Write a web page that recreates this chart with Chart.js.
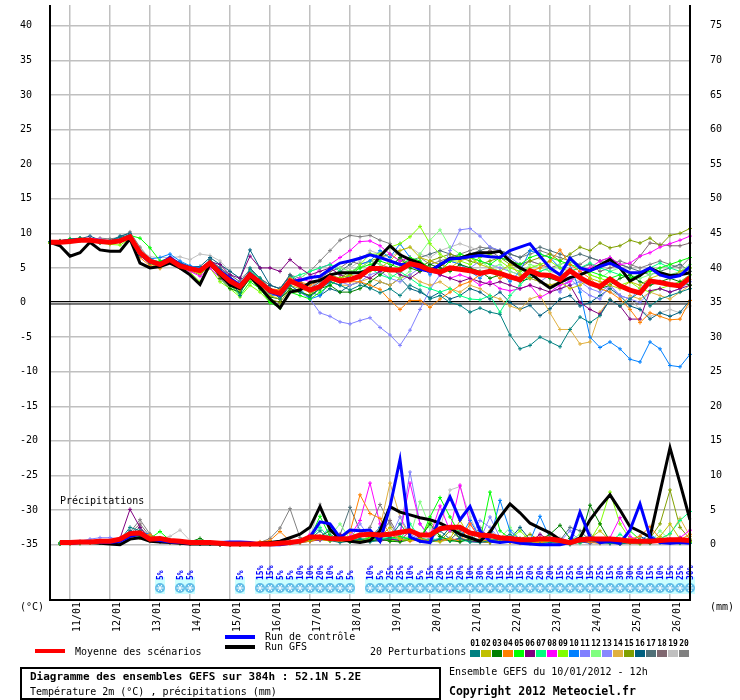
<!DOCTYPE html>
<html>
<head>
<meta charset="utf-8">
<title>Diagramme des ensembles GEFS</title>
<script src="https://cdn.jsdelivr.net/npm/chart.js@4.4.1/dist/chart.umd.min.js"></script>
<style>
  html, body { margin: 0; padding: 0; background: #fff; }
  canvas { display: block; }
</style>
</head>
<body>
<canvas id="gefs" width="740" height="700"></canvas>
<script>
// Echéances : du 10/01 12h au 26/01 12h, pas de 6h (65 points)
const jours = ['10/01', '11/01', '12/01', '13/01', '14/01', '15/01', '16/01', '17/01', '18/01',
               '19/01', '20/01', '21/01', '22/01', '23/01', '24/01', '25/01', '26/01'];
const heures = ['00h', '06h', '12h', '18h'];
const echeances = [];
jours.forEach(j => heures.forEach(h => echeances.push(j + ' ' + h)));
const times = echeances.slice(2, 67);

// Graduations
const tempTicks = [-35, -30, -25, -20, -15, -10, -5, 0, 5, 10, 15, 20, 25, 30, 35, 40];
const mmTicks = [0, 5, 10, 15, 20, 25, 30, 35, 40, 45, 50, 55, 60, 65, 70, 75];

// Couleurs des 20 perturbations
const couleurs = ['#008080', '#c0c000', '#008000', '#ff8000', '#00ff00', '#800080', '#00ff80',
                  '#ff00ff', '#80ff00', '#0080ff', '#8080ff', '#80ff80', '#8888ff', '#e0b040',
                  '#80a000', '#006080', '#507078', '#806870', '#c0c0c0', '#808080'];

// Température 2m (°C)
const tMoy = [8.7,8.7,8.8,9.0,9.0,8.8,8.7,8.9,9.5,7.2,6.0,5.5,6.2,5.3,4.9,4.6,5.7,
  4.3,3.1,2.3,4.0,2.9,1.7,1.3,3.1,2.5,1.8,2.3,3.6,3.1,3.3,3.8,4.9,
  4.9,4.7,4.7,5.6,5.3,4.7,4.4,5.0,4.8,4.6,4.2,4.5,4.2,3.7,3.3,4.6,
  4.0,3.9,3.3,4.6,3.6,2.8,2.3,3.4,2.4,1.8,1.4,3.1,2.9,2.6,2.4,3.6];
const tCtrl = [8.7,8.8,9.0,9.1,9.0,8.9,8.8,8.9,9.6,7.0,5.8,5.6,6.5,5.5,5.0,4.7,5.8,
  4.6,3.5,2.5,4.2,3.0,1.5,1.0,3.0,3.2,3.6,3.8,4.8,5.7,6.0,6.4,6.9,
  6.5,6.0,5.5,5.5,4.8,4.5,5.5,6.3,6.4,6.6,6.8,6.6,6.5,7.5,8.0,8.5,
  6.7,5.0,4.0,6.4,5.0,4.6,5.2,5.7,5.0,4.3,4.3,5.0,4.0,3.6,3.9,5.2];
const tGfs = [8.7,8.2,6.7,7.2,8.7,7.6,7.4,7.4,9.2,5.7,5.0,5.2,5.7,5.0,4.0,2.6,5.6,
  4.0,2.5,2.0,3.8,2.2,0.5,-0.8,1.5,1.8,2.9,3.2,4.0,4.3,4.3,4.3,4.7,
  6.7,8.2,6.9,6.2,5.7,4.6,5.4,6.4,6.4,6.9,7.2,7.2,7.4,6.0,5.0,4.3,
  3.1,2.1,2.9,3.6,4.0,4.6,5.4,6.2,5.0,3.1,3.9,5.0,4.3,3.9,4.0,4.3];

const t01 = [8.8,8.9,9.0,9.3,9.1,8.6,8.9,9.4,9.8,6.8,5.7,5.2,6.0,5.5,5.0,4.8,6.0,
  4.8,3.5,1.0,5.0,3.5,2.0,0.5,2.5,1.5,0.8,2.0,3.0,2.5,1.8,2.5,2.1,
  1.4,2.0,1.0,2.5,1.8,0.5,1.0,0.0,-0.4,-1.4,-0.8,-1.4,-1.7,-4.7,-6.7,-6.2,
  -5.0,-5.7,-6.4,-3.9,-2.1,-2.9,-1.9,0.4,-0.5,0.5,1.5,-0.5,0.5,1.0,1.5,2.0];
const t02 = [8.7,8.6,8.8,9.0,9.0,8.7,8.5,8.7,9.3,7.0,5.8,5.3,6.0,5.1,4.7,4.2,5.4,
  3.8,2.8,1.8,3.5,2.5,1.0,0.5,2.5,2.0,1.5,2.5,3.0,3.5,4.0,3.5,4.5,
  5.0,6.0,7.5,8.0,6.5,6.0,5.5,5.0,6.0,6.5,5.5,5.0,4.5,5.5,4.0,3.5,
  3.0,2.5,3.0,2.0,2.5,3.5,3.0,2.5,2.0,3.0,2.5,3.5,4.0,3.5,4.5,5.0];
const t03 = [8.7,8.8,9.0,9.2,9.1,8.8,8.7,8.8,9.3,7.0,5.9,5.6,6.1,5.3,4.9,4.5,5.8,
  3.5,2.0,1.5,3.5,2.0,0.8,0.5,2.0,1.5,1.0,2.0,2.5,1.5,1.5,2.0,3.0,
  4.0,5.0,6.5,5.0,4.5,5.5,5.0,4.5,5.5,5.0,4.5,3.5,4.0,3.5,3.0,3.5,
  4.0,3.5,3.0,4.5,3.5,3.0,2.0,2.5,3.5,4.0,3.0,2.5,3.0,3.5,3.0,2.5];
const t04 = [8.7,8.8,9.0,9.1,9.0,8.8,8.7,8.9,9.4,6.5,5.3,5.0,6.0,5.1,4.8,4.5,5.5,
  4.2,3.2,2.5,4.2,3.0,2.0,1.8,3.5,3.0,2.5,3.2,3.5,3.0,3.0,3.0,2.5,
  1.9,0.3,-1.0,0.3,0.3,-0.7,0.5,1.5,2.5,3.0,4.0,4.5,3.5,4.0,3.5,4.5,
  5.0,6.0,7.6,5.5,4.5,3.5,2.0,1.5,0.5,-1.0,-2.9,-1.5,-2.0,-2.5,-2.4,0.3];
const t05 = [8.8,8.9,9.2,9.3,9.2,8.9,8.8,9.0,9.7,9.3,7.9,6.0,6.4,5.4,4.9,4.3,5.6,
  4.0,2.5,1.0,3.0,2.0,0.0,-0.8,1.5,1.0,0.5,1.5,2.5,3.5,4.0,5.0,5.5,
  6.0,5.5,5.0,6.5,6.0,5.0,4.5,6.0,7.0,6.5,6.0,5.5,6.5,6.0,5.5,6.5,
  7.0,6.5,6.0,5.5,5.0,4.5,4.0,3.5,4.0,3.5,4.0,4.5,5.0,5.5,6.0,6.5];
const t06 = [8.7,8.8,8.9,9.0,8.9,8.8,8.7,9.0,9.4,7.1,5.9,5.5,6.1,5.2,4.9,4.8,5.9,
  5.5,4.0,3.5,6.7,5.0,5.0,4.5,6.2,5.0,4.0,4.5,5.0,4.0,3.5,4.0,3.5,
  4.5,5.0,4.0,3.5,4.5,5.0,4.0,3.5,3.0,3.5,3.0,2.6,3.0,2.5,2.0,2.5,
  2.0,1.5,2.0,2.5,0.0,-1.0,-1.7,0.4,-0.5,-2.4,-2.4,1.7,2.0,1.5,2.0,2.5];
const t07 = [8.7,8.8,9.0,9.1,9.1,8.9,8.9,9.1,9.6,7.4,6.2,5.9,6.4,5.4,5.0,4.6,5.8,
  4.2,3.3,2.0,4.5,3.5,1.8,1.5,3.5,4.0,4.5,5.0,5.5,4.5,4.0,4.5,5.0,
  4.0,3.5,4.5,3.5,2.5,2.0,1.5,2.0,1.0,0.5,0.4,1.0,-1.4,1.0,2.5,4.0,
  4.5,5.0,4.0,4.5,5.0,5.7,5.0,4.5,4.0,3.5,4.0,5.0,5.7,5.0,4.5,5.0];
const t08 = [8.8,8.7,8.9,9.2,9.3,9.1,8.9,9.2,9.8,7.3,6.0,5.5,6.2,5.1,4.5,3.8,5.0,
  3.5,2.8,2.0,4.0,3.0,2.0,1.5,3.0,3.5,3.0,5.0,5.5,6.5,7.5,8.8,8.9,
  8.2,7.0,6.0,6.5,5.5,4.5,4.0,3.5,4.0,3.5,2.5,3.0,2.0,1.7,2.0,2.5,
  0.7,1.5,2.5,3.0,4.5,5.0,6.0,6.5,5.5,5.7,6.7,7.2,8.0,8.5,9.0,9.6];
const t09 = [8.6,8.7,8.7,8.9,8.8,8.6,8.4,8.3,9.2,7.0,5.6,5.2,5.8,5.0,4.4,3.0,5.0,
  3.0,2.0,0.8,2.5,1.5,0.0,-0.5,1.5,1.5,1.0,2.0,3.5,3.0,4.0,5.5,7.0,
  7.0,8.0,8.5,9.5,11.0,8.5,7.0,6.0,6.0,5.5,6.5,7.0,6.0,5.0,4.5,5.0,
  5.5,6.0,5.0,4.5,5.0,4.0,3.5,3.0,2.5,3.0,2.0,1.5,2.0,2.5,3.0,4.0];
const t10 = [8.7,8.8,9.0,9.2,9.1,8.9,8.8,9.0,9.6,7.4,6.3,6.5,7.0,6.0,5.3,5.0,5.5,
  4.5,3.0,2.0,3.5,2.5,1.0,1.2,3.5,2.0,0.5,1.0,3.0,2.5,4.0,5.5,6.0,
  7.5,6.5,8.5,6.5,5.5,4.0,5.5,6.0,5.5,4.5,3.5,5.0,4.5,3.0,4.5,7.5,
  7.0,6.5,5.0,5.5,1.5,-5.0,-6.5,-5.7,-6.7,-8.2,-8.6,-5.7,-6.7,-9.1,-9.3,-7.5];
const t11 = [8.7,8.7,8.9,9.1,9.2,9.0,8.8,9.1,9.7,7.5,6.1,5.8,6.3,5.4,5.0,4.7,5.2,
  4.5,3.5,2.5,4.5,3.0,1.5,1.0,2.5,1.5,0.5,-1.5,-2.0,-2.8,-3.1,-2.6,-2.2,
  -3.6,-4.7,-6.2,-4.0,-1.0,1.9,4.0,7.5,10.5,10.7,9.6,8.0,7.5,6.5,5.5,4.0,
  3.0,2.5,1.5,3.5,2.0,1.0,0.5,2.5,1.0,0.5,2.0,3.5,3.0,2.5,3.0,4.0];
const t12 = [8.7,8.8,9.0,9.1,9.0,8.9,8.8,9.0,9.5,7.2,6.0,5.5,6.2,5.3,4.8,4.4,5.4,
  4.0,2.8,1.8,3.8,2.6,1.3,1.0,2.8,3.5,4.5,5.0,5.5,5.0,4.5,5.0,6.0,
  5.5,4.0,3.5,4.5,7.0,9.0,10.5,8.0,7.0,6.5,6.0,5.0,5.5,4.5,4.0,5.5,
  5.0,4.5,5.5,6.0,5.0,4.0,3.5,4.5,5.0,4.0,3.5,4.0,4.5,4.0,4.5,5.5];
const t13 = [8.8,8.9,9.1,9.3,9.2,9.0,8.9,9.1,9.7,7.5,6.3,5.8,6.5,5.5,5.1,4.7,5.6,
  4.5,3.5,2.8,4.0,3.2,2.0,1.5,3.0,2.5,1.8,2.5,3.5,3.0,2.5,3.0,4.0,
  4.5,3.5,3.0,4.0,5.0,4.5,5.5,6.0,5.5,5.0,6.0,5.5,5.0,4.5,4.0,3.5,
  3.0,4.0,3.5,2.5,3.0,2.0,1.5,2.5,1.0,0.5,0.0,1.5,2.0,1.5,2.0,3.0];
const t14 = [8.7,8.7,8.9,9.0,9.0,8.8,8.6,8.8,9.4,7.0,5.6,4.9,6.0,5.2,4.6,4.2,5.4,
  4.0,3.0,2.0,3.5,2.0,1.2,0.8,2.8,2.2,1.5,2.0,3.0,2.5,2.5,3.0,3.5,
  3.0,2.5,3.5,4.0,3.0,2.5,3.0,2.0,1.5,2.5,2.0,1.0,0.5,-0.5,-1.0,0.5,
  1.0,-1.5,-3.9,-3.9,-6.0,-5.7,-1.4,0.5,-0.5,1.0,0.5,1.5,1.0,0.5,1.5,2.5];
const t15 = [8.6,8.8,9.0,9.1,9.0,8.7,8.6,8.8,9.4,7.0,5.8,5.3,6.0,5.0,4.6,4.0,5.3,
  3.8,2.5,1.5,3.5,2.5,0.5,0.0,2.0,1.5,1.0,2.5,4.0,3.5,4.5,5.0,6.0,
  6.5,7.0,6.0,5.5,5.0,6.0,6.5,7.0,6.5,6.0,5.5,6.0,6.5,5.5,5.0,6.0,
  6.5,7.0,6.0,7.0,8.0,7.5,8.6,7.9,8.2,9.0,8.6,9.3,8.2,9.7,10.0,10.7];
const t16 = [8.6,8.8,9.1,9.2,9.6,9.0,8.9,9.6,10.0,7.0,5.5,5.6,6.4,5.8,5.2,5.2,6.5,
  5.5,4.5,3.5,7.6,5.0,2.5,2.0,3.8,2.8,1.5,1.0,2.0,1.5,2.5,3.0,2.0,
  3.0,2.5,3.5,2.0,1.5,0.7,1.5,0.5,1.0,2.0,1.5,0.5,1.5,0.0,-1.0,-0.4,
  -1.9,-0.9,0.5,1.0,-0.5,0.0,1.0,2.0,1.0,-0.5,-1.0,-2.4,-1.5,-2.0,-1.4,0.3];
const t17 = [8.7,8.7,8.8,9.0,9.0,8.8,8.7,8.9,9.6,7.5,6.2,5.5,6.3,5.4,5.0,4.8,6.2,
  5.0,4.0,3.0,4.8,3.5,2.5,2.0,4.0,3.0,2.0,3.0,4.0,4.5,5.5,6.5,7.0,
  6.5,6.0,5.5,6.0,6.5,7.0,7.5,7.0,6.5,7.0,7.5,8.0,7.5,7.0,6.5,7.5,
  8.0,7.5,7.0,6.5,7.0,6.5,6.0,6.5,5.5,5.0,4.5,4.0,4.5,5.0,5.5,4.5];
const t18 = [8.6,8.7,8.8,9.0,9.1,8.8,8.6,8.9,9.6,7.3,6.1,5.4,6.1,5.2,4.8,4.3,5.5,
  4.2,3.0,2.2,3.8,2.8,1.5,1.0,3.2,2.8,2.0,3.5,4.5,5.0,6.0,5.5,6.0,
  5.5,5.0,6.5,5.5,5.0,6.0,5.5,6.0,6.5,7.0,6.8,7.5,6.5,6.0,5.5,6.0,
  5.5,5.0,5.5,6.0,5.0,5.5,4.5,5.0,5.5,5.0,6.7,8.6,8.4,8.2,8.2,8.6];
const t19 = [8.7,8.8,8.9,9.1,9.2,9.0,8.9,9.1,9.8,7.6,6.6,6.5,6.5,6.6,6.2,7.0,6.8,
  6.0,4.5,3.5,4.5,3.5,2.0,1.5,3.0,2.5,2.0,3.0,4.0,4.5,5.0,6.0,7.5,
  7.0,6.5,7.5,8.0,7.0,6.5,7.5,8.0,8.5,8.0,7.5,7.0,6.5,6.0,5.5,6.0,
  5.5,4.5,4.0,3.5,3.0,2.5,2.0,1.5,1.0,0.5,-1.0,-2.0,-1.5,-1.0,-1.5,-0.5];
const t20 = [8.7,8.9,9.1,9.2,9.1,9.3,9.2,9.4,10.2,8.0,6.3,5.7,6.6,5.6,5.1,4.9,6.0,
  5.0,3.8,2.5,4.5,3.5,2.5,2.0,4.0,3.5,4.5,6.0,7.5,9.0,9.7,9.5,9.7,
  9.0,8.5,7.0,6.0,6.5,5.5,6.0,6.5,7.0,7.5,8.0,7.8,7.5,7.0,6.5,7.0,
  7.5,7.0,6.5,6.0,5.5,6.5,6.0,5.5,6.0,5.5,5.0,5.5,6.0,5.5,5.0,6.5];

// Précipitations sur 6h (mm), pas de valeur à l'échéance initiale
const pMoy = [null,
  0.3,0.3,0.4,0.4,0.5,0.5,0.8,1.6,1.7,0.8,0.9,0.6,0.5,0.3,0.3,0.3,
  0.2,0.1,0.1,0.1,0.1,0.1,0.2,0.3,0.5,1.1,1.1,0.9,0.8,0.9,1.4,1.5,
  1.4,1.5,1.8,2.0,1.4,1.4,2.3,2.5,2.5,1.7,1.4,1.3,1.0,0.9,0.7,0.7,
  0.8,0.8,0.6,0.3,0.7,0.8,0.8,0.8,0.7,0.5,0.5,0.5,0.6,0.7,0.7,0.6];
const pCtrl = [null,
  0.2,0.2,0.3,0.3,0.3,0.3,0.5,1.2,1.5,0.8,0.6,0.4,0.3,0.2,0.2,0.2,
  0.3,0.4,0.4,0.3,0.1,0.0,0.0,0.2,0.5,1.1,3.3,3.0,1.0,2.1,2.0,2.1,
  0.5,5.5,12.3,1.1,0.5,0.3,4.0,6.9,3.6,5.5,2.0,0.5,0.3,0.5,0.2,0.1,
  0.0,0.0,0.0,0.3,4.7,1.1,0.3,0.5,0.2,2.1,5.9,1.1,0.3,0.2,0.3,0.2];
const pGfs = [null,
  0.2,0.2,0.3,0.3,0.2,0.1,0.0,0.8,1.0,0.5,0.4,0.3,0.2,0.1,0.1,0.1,
  0.1,0.1,0.1,0.1,0.2,0.3,0.5,1.0,1.5,2.5,5.5,2.2,0.8,0.5,0.3,0.6,
  2.0,5.5,4.7,4.3,3.9,3.6,3.1,2.4,1.5,1.0,0.5,1.8,4.0,5.9,4.6,3.1,
  2.4,1.7,0.7,0.3,1.0,3.6,5.5,7.2,5.0,2.6,1.9,1.1,7.6,14.0,8.9,3.6];

const p01 = [null,
  0.2,0.3,0.3,0.4,0.3,0.4,0.7,2.5,2.0,0.8,0.6,0.4,0.3,0.2,0.1,0.1,
  0.0,0.0,0.1,0.0,0.0,0.1,0.2,0.3,0.5,0.8,2.0,0.6,0.3,0.5,0.8,0.4,
  0.6,1.0,3.0,1.2,0.5,0.3,0.8,2.5,0.9,0.4,0.3,0.6,0.8,1.5,0.5,0.2,
  0.1,0.3,0.2,0.0,0.4,0.6,0.3,0.2,0.1,0.3,0.2,1.0,0.4,0.2,0.3,0.2];
const p02 = [null,
  0.2,0.2,0.3,0.3,0.4,0.3,0.5,1.0,1.5,0.6,0.5,0.3,0.2,0.2,0.1,0.1,
  0.0,0.1,0.0,0.0,0.1,0.0,0.1,0.2,0.4,0.6,0.9,0.7,0.4,0.6,0.5,0.8,
  1.2,2.5,0.8,0.6,0.9,0.5,0.4,0.8,3.5,1.0,0.5,0.3,0.6,0.4,0.3,0.2,
  0.5,0.3,0.2,0.1,0.4,0.9,2.0,0.6,0.3,0.2,0.1,0.5,1.2,3.0,0.8,0.5];
const p03 = [null,
  0.1,0.2,0.2,0.3,0.3,0.3,0.6,1.1,1.5,0.7,0.5,0.4,0.3,0.4,0.9,0.2,
  0.1,0.0,0.0,0.1,0.0,0.1,0.2,0.3,0.4,0.7,1.2,2.0,0.6,0.4,0.7,0.5,
  0.8,0.5,0.4,0.7,0.9,3.0,1.2,0.6,0.4,0.8,0.5,0.3,0.4,0.6,0.9,0.4,
  0.7,1.5,2.8,0.9,0.6,5.7,3.0,0.5,0.2,0.4,0.3,0.2,0.6,0.4,0.3,0.5];
const p04 = [null,
  0.2,0.2,0.3,0.3,0.4,0.4,0.6,1.2,1.0,1.5,0.6,0.4,0.3,0.2,0.2,0.1,
  0.1,0.0,0.1,0.2,0.4,0.6,1.9,0.5,0.3,0.5,0.8,0.6,0.9,1.8,7.2,4.5,
  3.8,1.5,0.8,0.5,0.7,0.4,0.6,0.9,0.5,3.0,0.8,0.4,0.5,0.3,0.2,0.4,
  0.3,0.5,0.2,0.4,0.6,0.3,0.2,0.5,0.4,0.8,1.2,2.6,0.9,0.5,0.7,1.5];
const p05 = [null,
  0.3,0.3,0.4,0.4,0.5,0.5,0.8,1.3,1.2,0.9,1.9,0.6,0.4,0.3,0.2,0.2,
  0.1,0.0,0.0,0.1,0.1,0.2,0.3,0.4,0.6,1.0,4.1,1.2,0.5,0.8,0.6,1.0,
  0.7,0.9,1.2,0.8,0.6,4.0,6.8,4.0,1.5,0.8,0.6,7.6,2.0,0.9,0.5,0.4,
  0.3,0.6,0.4,0.2,0.5,0.8,0.4,0.3,0.6,2.0,0.7,0.4,0.3,0.5,0.2,0.4];
const p06 = [null,
  0.2,0.2,0.3,0.3,0.3,0.4,0.9,5.1,2.5,0.7,0.5,0.3,0.2,0.2,0.1,0.1,
  0.0,0.0,0.1,0.0,0.1,0.1,0.2,0.4,0.3,0.5,0.7,0.9,1.5,0.6,0.4,0.7,
  0.5,0.8,0.6,2.0,0.9,0.5,0.7,0.6,0.9,0.5,0.4,0.3,0.6,0.5,0.4,0.3,
  1.5,0.6,0.3,0.2,0.4,0.3,0.5,0.2,0.1,0.3,0.5,0.4,0.6,0.3,1.0,0.6];
const p07 = [null,
  0.2,0.3,0.3,0.4,0.4,0.4,0.7,1.4,2.0,0.8,0.6,0.4,0.3,0.2,0.2,0.1,
  0.1,0.1,0.0,0.0,0.1,0.2,0.2,0.3,0.5,0.9,2.5,0.8,0.6,0.4,0.9,0.6,
  0.8,1.1,0.7,3.0,1.0,0.6,0.9,0.5,0.7,0.4,2.0,0.6,0.8,0.4,0.3,0.5,
  0.2,0.4,0.3,0.5,0.2,0.6,0.3,0.4,1.5,0.5,0.3,0.6,0.8,1.6,3.5,4.8];
const p08 = [null,
  0.2,0.2,0.3,0.3,0.4,0.3,0.6,1.3,2.0,0.8,0.5,0.4,0.3,0.2,0.1,0.1,
  0.0,0.1,0.0,0.1,0.0,0.1,0.2,0.3,0.6,1.5,0.9,0.7,0.5,1.2,3.5,8.9,
  3.0,0.9,1.5,8.9,3.0,1.2,5.6,2.0,8.6,3.0,1.0,0.6,0.4,0.7,0.3,0.5,
  0.4,0.2,0.6,0.3,0.5,0.8,0.4,1.0,3.9,1.2,0.5,0.3,0.6,0.8,1.0,2.1];
const p09 = [null,
  0.1,0.2,0.2,0.3,0.3,0.3,0.5,1.0,1.0,1.2,0.6,0.4,0.3,0.2,0.1,0.1,
  0.0,0.0,0.1,0.0,0.1,0.2,0.1,0.3,0.4,0.6,0.8,0.5,0.9,2.0,0.7,0.5,
  0.9,0.6,0.5,0.8,0.6,3.5,1.2,0.7,0.5,0.9,0.4,0.6,0.5,0.8,2.0,0.6,
  0.4,0.3,0.5,0.2,0.4,0.6,3.0,7.6,3.0,0.8,0.4,0.3,0.5,0.6,0.4,0.3];
const p10 = [null,
  0.2,0.3,0.3,0.3,0.4,0.4,0.7,1.2,1.8,1.5,0.6,0.4,0.3,0.3,0.2,0.1,
  0.1,0.0,0.0,0.1,0.1,0.1,0.2,0.4,0.5,0.7,1.0,2.5,0.8,0.5,0.7,0.9,
  2.5,0.8,0.6,1.0,0.7,0.5,0.8,0.6,0.9,3.5,1.0,0.6,6.4,2.0,0.7,0.5,
  4.1,0.9,0.5,0.3,0.4,0.2,0.5,0.3,0.2,0.4,0.6,1.5,0.5,0.3,0.4,0.2];
const p11 = [null,
  0.2,0.3,0.5,0.8,1.0,1.0,0.8,1.1,1.5,0.7,0.5,0.4,0.3,0.2,0.2,0.1,
  0.1,0.0,0.0,0.1,0.0,0.1,0.2,0.3,0.4,0.6,1.0,0.7,0.5,0.8,0.6,0.9,
  1.1,0.7,1.6,10.5,3.0,0.9,0.6,0.8,0.5,0.9,0.7,4.0,1.0,0.6,0.4,0.5,
  0.3,0.6,0.4,2.0,0.5,0.3,0.4,0.2,0.5,0.3,0.6,0.4,0.3,0.5,0.4,0.6];
const p12 = [null,
  0.2,0.2,0.3,0.3,0.3,0.4,0.6,1.2,1.1,0.8,1.0,0.5,0.3,0.2,0.2,0.1,
  0.0,0.1,0.0,0.0,0.1,0.1,0.2,0.2,0.4,0.6,0.9,1.2,3.0,0.8,0.5,0.7,
  0.9,0.6,0.8,1.1,6.2,2.5,0.9,0.6,0.8,0.5,0.7,0.4,0.9,2.5,0.7,0.4,
  0.3,0.5,0.4,0.6,1.5,0.4,0.3,0.5,0.2,0.4,0.6,0.3,2.0,0.7,0.4,0.5];
const p13 = [null,
  0.2,0.3,0.3,0.4,0.4,0.5,0.7,1.3,1.5,0.7,0.5,0.4,0.3,0.2,0.2,0.1,
  0.1,0.0,0.1,0.0,0.0,0.1,0.2,0.3,0.5,0.7,0.6,0.9,0.7,0.8,3.0,1.0,
  0.7,0.9,4.0,1.5,0.8,0.6,0.9,0.7,0.5,0.8,3.5,2.5,0.7,0.5,0.4,0.6,
  0.3,0.5,0.4,0.3,0.6,0.4,0.2,0.5,0.3,1.0,0.4,0.6,0.3,0.4,0.5,0.3];
const p14 = [null,
  0.2,0.2,0.3,0.3,0.3,0.4,0.6,1.1,1.2,0.8,0.5,0.4,0.3,0.2,0.1,0.1,
  0.0,0.0,0.1,0.1,0.0,0.1,0.1,0.3,0.5,0.8,0.7,0.6,0.5,0.9,0.6,1.2,
  2.5,8.9,4.0,0.9,0.7,0.5,0.8,0.6,0.9,0.7,0.5,2.0,0.8,0.4,0.6,0.5,
  0.4,1.5,0.6,0.3,0.5,0.4,0.2,0.6,0.4,0.3,0.5,0.7,0.9,1.5,3.8,1.2];
const p15 = [null,
  0.1,0.2,0.2,0.3,0.3,0.3,0.5,0.9,1.0,0.6,0.5,0.3,0.2,0.2,0.1,0.1,
  0.0,0.0,0.0,0.1,0.1,0.1,0.2,0.2,0.3,0.5,0.7,0.6,0.8,1.0,0.7,0.6,
  0.8,0.5,0.7,0.9,0.6,0.8,0.5,2.0,0.9,0.6,0.4,0.7,0.5,0.6,0.8,1.5,
  0.6,0.4,0.3,0.5,0.4,0.6,0.3,0.4,0.5,0.3,0.6,0.9,3.0,7.9,2.5,0.8];
const p16 = [null,
  0.2,0.2,0.3,0.3,0.4,0.4,0.8,2.0,1.4,0.7,0.5,0.3,0.2,0.2,0.1,0.1,
  0.1,0.0,0.0,0.1,0.0,0.1,0.2,0.3,0.4,0.7,0.9,1.5,0.6,0.5,0.8,0.6,
  0.7,0.8,0.5,0.9,0.6,0.7,2.0,0.8,0.5,0.7,0.4,0.6,0.5,0.8,2.5,0.7,
  0.4,0.3,0.5,0.2,0.4,0.6,0.3,0.5,0.4,0.6,1.2,0.5,0.3,0.4,0.6,0.4];
const p17 = [null,
  0.2,0.3,0.3,0.4,0.4,0.4,0.7,1.5,2.5,1.0,0.6,0.4,0.3,0.2,0.2,0.1,
  0.1,0.0,0.1,0.0,0.1,0.1,0.2,0.3,0.5,0.8,0.7,0.9,1.4,5.4,2.0,0.8,
  0.6,0.9,0.7,0.8,0.5,0.9,0.6,0.7,2.0,0.8,0.5,0.7,0.4,0.6,0.5,0.3,
  0.5,0.4,0.6,2.5,2.0,0.6,0.4,0.3,0.5,0.4,0.3,0.6,0.5,0.4,0.3,0.5];
const p18 = [null,
  0.2,0.2,0.3,0.3,0.4,0.4,0.6,1.6,3.0,1.2,0.6,0.4,0.3,0.2,0.1,0.1,
  0.0,0.1,0.0,0.1,0.1,0.2,0.2,0.4,0.5,0.6,0.8,0.7,0.5,0.9,0.7,1.1,
  1.3,3.5,1.0,0.7,0.9,0.6,0.8,2.5,0.9,0.6,0.5,0.4,0.7,0.5,0.4,0.6,
  1.0,0.4,0.3,0.5,0.6,0.4,0.3,0.2,0.5,0.4,0.6,0.3,0.5,0.4,0.6,0.3];
const p19 = [null,
  0.2,0.3,0.3,0.4,0.4,0.5,0.8,1.2,1.5,0.9,0.8,1.2,2.1,0.6,0.3,0.2,
  0.1,0.0,0.1,0.1,0.1,0.2,0.3,0.4,0.6,1.0,5.9,2.5,0.8,0.6,0.9,0.7,
  1.0,0.8,0.9,1.2,0.7,0.9,2.2,7.9,8.4,4.0,1.0,0.6,0.5,0.7,0.4,0.5,
  0.3,0.6,1.0,0.4,0.3,0.5,0.2,0.4,0.3,0.5,0.4,0.6,0.3,0.5,0.4,0.3];
const p20 = [null,
  0.2,0.3,0.3,0.4,0.4,0.4,0.7,1.8,3.6,1.5,0.7,0.5,0.3,0.2,0.2,0.1,
  0.1,0.0,0.1,0.2,0.3,0.9,2.4,5.2,1.0,0.6,0.8,0.7,0.5,0.9,1.1,2.5,
  5.8,3.0,0.9,0.7,1.0,0.6,0.8,0.9,0.6,0.7,2.5,0.8,0.6,0.5,0.4,0.5,
  0.6,0.4,0.3,0.5,0.4,1.5,0.6,0.4,0.3,0.5,0.4,0.3,0.6,0.5,0.4,0.5];

// Probabilité de neige (%) par échéance
const neige = [null,null,null,null,null,null,null,null,null,null,null,5,null,5,5,null,
  null,null,null,5,null,15,15,5,5,10,10,20,10,5,5,null,
  10,5,25,25,10,5,15,20,15,20,10,30,20,15,15,15,
  20,20,20,15,25,10,15,25,15,30,30,20,15,10,15,25,30];

const tempPerts = [t01, t02, t03, t04, t05, t06, t07, t08, t09, t10,
                   t11, t12, t13, t14, t15, t16, t17, t18, t19, t20];
const precPerts = [p01, p02, p03, p04, p05, p06, p07, p08, p09, p10,
                   p11, p12, p13, p14, p15, p16, p17, p18, p19, p20];

const FONT = '"DejaVu Sans Mono", monospace';
Chart.defaults.font.family = FONT;
Chart.defaults.font.size = 10;
Chart.defaults.color = '#000';

function serie(data, axe, couleur, epaisseur, ordre, points) {
  return {
    data: data,
    yAxisID: axe,
    borderColor: couleur,
    backgroundColor: couleur,
    borderWidth: epaisseur,
    pointRadius: points ? 2 : 0,
    pointStyle: 'cross',
    pointBorderWidth: 1,
    pointBorderColor: couleur,
    fill: false,
    order: ordre
  };
}

const datasets = [
  serie(tMoy, 'y', '#ff0000', 5, 0, false),
  serie(pMoy, 'yR', '#ff0000', 5, 0, false),
  serie(tCtrl, 'y', '#0000ff', 3, 1, false),
  serie(pCtrl, 'yR', '#0000ff', 3, 1, false),
  serie(tGfs, 'y', '#000000', 3, 2, false),
  serie(pGfs, 'yR', '#000000', 3, 2, false)
];
tempPerts.forEach((t, k) => datasets.push(serie(t, 'y', couleurs[k], 1, 3, true)));
precPerts.forEach((p, k) => datasets.push(serie(p, 'yR', couleurs[k], 1, 3, true)));

// Décor : ligne du zéro, neige, légende et cartouche
const decor = {
  id: 'decor',
  beforeDatasetsDraw(chart) {
    const { ctx, chartArea: a, scales } = chart;
    const y0 = scales.y.getPixelForValue(0);
    ctx.save();
    ctx.strokeStyle = '#000';
    ctx.lineWidth = 1;
    [y0 - 1, y0 + 1.5].forEach(py => {
      ctx.beginPath(); ctx.moveTo(a.left, py); ctx.lineTo(a.right, py); ctx.stroke();
    });

    ctx.font = '10px ' + FONT;
    ctx.fillStyle = '#000';
    ctx.textBaseline = 'middle';
    ctx.fillText('Précipitations', a.left + 10, scales.yR.getPixelForValue(6.3));

    // pictos de neige
    neige.forEach((v, i) => {
      if (v === null) return;
      const px = scales.x.getPixelForValue(i);
      const py = a.bottom - 12;
      ctx.fillStyle = '#ccffff';
      ctx.fillRect(px - 5, py - 11, 10, 17);
      ctx.fillStyle = '#62bde8';
      ctx.beginPath(); ctx.arc(px, py, 5, 0, Math.PI * 2); ctx.fill();
      ctx.strokeStyle = '#ffffff';
      ctx.lineWidth = 1;
      for (let k = 0; k < 3; k++) {
        const ang = k * Math.PI / 3;
        ctx.beginPath();
        ctx.moveTo(px - 3.5 * Math.cos(ang), py - 3.5 * Math.sin(ang));
        ctx.lineTo(px + 3.5 * Math.cos(ang), py + 3.5 * Math.sin(ang));
        ctx.stroke();
      }
      ctx.save();
      ctx.translate(px + 3, py - 8);
      ctx.rotate(-Math.PI / 2);
      ctx.fillStyle = '#0000ff';
      ctx.font = 'bold 8px ' + FONT;
      ctx.textAlign = 'left';
      ctx.textBaseline = 'alphabetic';
      ctx.fillText(v + '%', 0, 0);
      ctx.restore();
    });
    ctx.restore();
  },
  afterDraw(chart) {
    const { ctx, chartArea: a } = chart;
    ctx.save();
    // cadre : gauche, bas, droite
    ctx.strokeStyle = '#000';
    ctx.lineWidth = 2;
    ctx.beginPath();
    ctx.moveTo(a.left, a.top);
    ctx.lineTo(a.left, a.bottom);
    ctx.lineTo(a.right, a.bottom);
    ctx.lineTo(a.right, a.top);
    ctx.stroke();

    ctx.fillStyle = '#000';
    ctx.textBaseline = 'middle';
    ctx.font = '10px ' + FONT;
    ctx.fillText('(°C)', 20, 607);
    ctx.fillText('(mm)', 710, 607);

    // légende
    const trait = (x, y, c) => {
      ctx.strokeStyle = c; ctx.lineWidth = 4;
      ctx.beginPath(); ctx.moveTo(x, y); ctx.lineTo(x + 30, y); ctx.stroke();
    };
    trait(35, 651, '#ff0000');
    ctx.fillText('Moyenne des scénarios', 75, 652);
    trait(225, 637, '#0000ff');
    ctx.fillText('Run de contrôle', 265, 637);
    trait(225, 647, '#000000');
    ctx.fillText('Run GFS', 265, 647);
    ctx.fillText('20 Perturbations', 370, 652);
    couleurs.forEach((c, k) => {
      const x = 470 + k * 11;
      ctx.fillStyle = c;
      ctx.fillRect(x, 650, 10, 7);
      ctx.fillStyle = '#000';
      ctx.font = 'bold 8px ' + FONT;
      ctx.textAlign = 'center';
      ctx.fillText(String(k + 1).padStart(2, '0'), x + 5, 644);
    });
    ctx.textAlign = 'left';

    // cartouche
    ctx.lineWidth = 2;
    ctx.strokeStyle = '#000';
    ctx.strokeRect(21, 668, 419, 31);
    ctx.font = 'bold 11px ' + FONT;
    ctx.fillText('Diagramme des ensembles GEFS sur 384h : 52.1N 5.2E', 30, 677);
    ctx.font = '10px ' + FONT;
    ctx.fillText('Température 2m (°C) , précipitations (mm)', 30, 692);
    ctx.fillText('Ensemble GEFS du 10/01/2012 - 12h', 449, 672);
    ctx.font = 'bold 11.5px ' + FONT;
    ctx.fillText('Copyright 2012 Meteociel.fr', 449, 692);
    ctx.restore();
  }
};

function sansMarge(scale) {
  scale.paddingTop = 0;
  scale.paddingBottom = 0;
  scale.paddingLeft = 0;
  scale.paddingRight = 0;
}

new Chart(document.getElementById('gefs'), {
  type: 'line',
  data: { labels: times, datasets: datasets },
  options: {
    responsive: false,
    animation: false,
    events: [],
    layout: { padding: { left: 20, right: 0, top: 0, bottom: 0 } },
    elements: { line: { tension: 0 } },
    plugins: { legend: { display: false }, tooltip: { enabled: false } },
    scales: {
      x: {
        type: 'category',
        grid: { color: '#c0c0c0', lineWidth: 1.5, drawTicks: false },
        border: { display: false },
        ticks: {
          autoSkip: false, minRotation: 90, maxRotation: 90, padding: 2, labelOffset: 7,
          callback: v => times[v].slice(0, 5)
        },
        afterBuildTicks: s => {
          s.ticks = s.ticks.filter(t => times[t.value].endsWith('00h'));
        },
        afterFit: s => { s.height = 100; sansMarge(s); }
      },
      y: {
        position: 'left',
        min: -43, max: 43,
        grid: { color: '#c0c0c0', lineWidth: 1.5, drawTicks: false },
        border: { display: false },
        ticks: { crossAlign: 'far', padding: 0 },
        afterBuildTicks: s => { s.ticks = tempTicks.map(v => ({ value: v })); },
        afterFit: s => { s.width = 30; sansMarge(s); }
      },
      yR: {
        position: 'right',
        min: -8, max: 78,
        grid: { display: false, drawTicks: false },
        border: { display: false },
        ticks: { padding: 20 },
        afterBuildTicks: s => { s.ticks = mmTicks.map(v => ({ value: v })); },
        afterFit: s => { s.width = 50; sansMarge(s); }
      }
    }
  },
  plugins: [decor]
});
</script>
</body>
</html>
